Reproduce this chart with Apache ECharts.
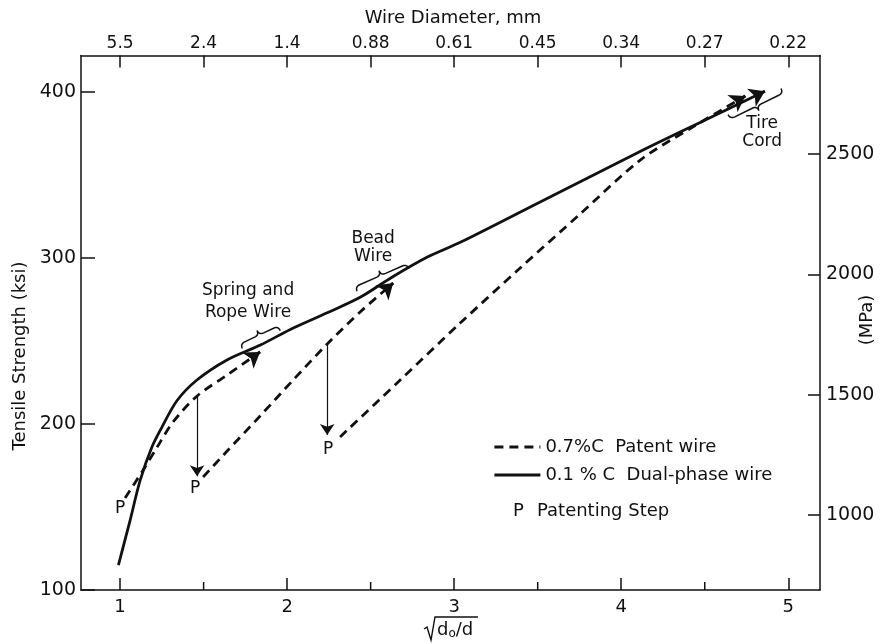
<!DOCTYPE html>
<html><head><meta charset="utf-8">
<script src="https://cdn.jsdelivr.net/npm/echarts@6/dist/echarts.min.js"></script>
<style>html,body{margin:0;padding:0;background:#fff}#c{width:884px;height:644px}</style>
</head><body><div id="c"></div>
<script>
// ---- data ----
const xTickValues = [1, 1.5, 2, 2.5, 3, 3.5, 4, 4.5, 5];
const diameterLabels = ['5.5', '2.4', '1.4', '0.88', '0.61', '0.45', '0.34', '0.27', '0.22'];
const xLabelValues = [1, 2, 3, 4, 5];
const xMinorTicks = [1.5, 2.5, 3.5, 4.5];
const ksiTicks = [100, 200, 300, 400];
const mpaTicks = [1000, 1500, 2000, 2500];

const dualPhaseWire = [
  [0.99, 115], [1.06, 142], [1.12, 166], [1.19, 186], [1.25, 198], [1.34, 214],
  [1.46, 226.5], [1.64, 238.6], [1.84, 247.6], [2.04, 258], [2.24, 267], [2.44, 276.5],
  [2.63, 288.6], [2.84, 300.6], [3.04, 309.6], [3.5, 333], [4.11, 364], [4.5, 383], [4.86, 400.5]
];
const patentWire1 = [
  [1.03, 155.4], [1.138, 172.3], [1.222, 186.1], [1.317, 201.2], [1.461, 216.9], [1.641, 229.5], [1.838, 243.4]
];
const patentWire2 = [
  [1.497, 168.1], [1.641, 183.7], [1.838, 204.8], [2.036, 226.5], [2.24, 248.2], [2.437, 267.5], [2.635, 284.9]
];
const patentWire3 = [
  [2.317, 192.2], [2.677, 226.5], [3.036, 260.8], [3.395, 294], [3.754, 326.5], [4.114, 359], [4.413, 378], [4.743, 397.6]
];
const patentingDrops = [
  [[1.461, 216.9], [1.461, 168.6]],
  [[2.24, 248.2], [2.24, 193.4]]
];
const patentingLabels = [[1.0, 149.1], [1.449, 160.8], [2.246, 184.3]];
const braces = [ // x1, y1, x2, y2, side (+1 hooks down, -1 hooks up)
  [1.719, 248.2, 1.946, 259.0, 1],
  [2.407, 282.7, 2.717, 296.4, 1],
  [4.653, 383.7, 4.97, 399.4, -1]
];
const noteTexts = [
  { pos: [1.766, 273.5], text: 'Spring and\nRope Wire', lh: 22 },
  { pos: [2.515, 306.3], text: 'Bead\nWire', lh: 18 },
  { pos: [4.844, 375.6], text: 'Tire\nCord', lh: 18 }
];
const patentName = '0.7%C  Patent wire';
const dualName = '0.1 % C  Dual-phase wire';

// ---- styling ----
const FONT = 'DejaVu Sans';
const INK = '#111';
const X_MIN = 0.766, X_MAX = 5.19, Y_MIN = 100, Y_MAX = 422;
const KSI_TO_MPA = 6.895;

function arrowSegment(curve) {
  const e = curve[curve.length - 1], p = curve[curve.length - 2], t = 0.12;
  return [[e[0] - (e[0] - p[0]) * t, e[1] - (e[1] - p[1]) * t], e];
}

function braceRender(params, api) {
  const a = api.coord([api.value(0), api.value(1)]);
  const b = api.coord([api.value(2), api.value(3)]);
  const side = api.value(4);
  const dx = b[0] - a[0], dy = b[1] - a[1], L = Math.hypot(dx, dy);
  const u = [dx / L, dy / L];
  let n = [-u[1], u[0]];
  if ((n[1] >= 0 ? 1 : -1) !== side) n = [-n[0], -n[1]];
  const h = 5;
  const m = [(a[0] + b[0]) / 2, (a[1] + b[1]) / 2];
  const P = (p, k1, k2) => [p[0] + u[0] * k1 + n[0] * k2, p[1] + u[1] * k1 + n[1] * k2];
  const pts = [];
  const quad = (p0, c, p1) => {
    for (let i = 0; i <= 8; i++) {
      const t = i / 8;
      pts.push([(1 - t) * (1 - t) * p0[0] + 2 * (1 - t) * t * c[0] + t * t * p1[0],
                (1 - t) * (1 - t) * p0[1] + 2 * (1 - t) * t * c[1] + t * t * p1[1]]);
    }
  };
  quad(P(a, 0, h), a, P(a, h, 0));
  quad(P(m, -h, 0), m, P(m, 0, -h));
  quad(P(m, 0, -h), m, P(m, h, 0));
  quad(P(b, -h, 0), b, P(b, 0, h));
  return { type: 'polyline', shape: { points: pts }, style: { fill: null, stroke: INK, lineWidth: 1.5 } };
}

function minorTickRender(params, api) {
  const p = api.coord([api.value(0), Y_MIN]);
  return { type: 'line', shape: { x1: p[0], y1: p[1], x2: p[0], y2: p[1] - 8 }, style: { stroke: INK, lineWidth: 1.5 } };
}

const axisLineStyle = { color: INK, width: 1.5 };
const labelBase = { color: INK, fontFamily: FONT };

function dashedSeries(data) {
  return {
    type: 'line', name: patentName, data: data, showSymbol: false, symbol: 'none',
    smooth: 0.3, silent: true, z: 3,
    lineStyle: { color: INK, width: 2.8, type: [9, 6] }, itemStyle: { color: INK }
  };
}

const option = {
  animation: false,
  backgroundColor: '#fff',
  grid: { left: 81, right: 64, top: 55.5, bottom: 54, outerBoundsMode: 'none', containLabel: false },
  xAxis: [
    {
      type: 'value', position: 'bottom', min: X_MIN, max: X_MAX,
      axisLine: { show: true, onZero: false, lineStyle: axisLineStyle },
      axisTick: { show: true, inside: true, length: 12, customValues: xLabelValues, lineStyle: axisLineStyle },
      axisLabel: Object.assign({ customValues: xLabelValues, fontSize: 18, margin: 8, formatter: v => String(v) }, labelBase),
      splitLine: { show: false }
    },
    {
      type: 'value', position: 'top', min: X_MIN, max: X_MAX,
      axisLine: { show: true, onZero: false, lineStyle: axisLineStyle },
      axisTick: { show: true, inside: true, length: 12, customValues: xTickValues, lineStyle: axisLineStyle },
      axisLabel: Object.assign({
        customValues: xTickValues, fontSize: 17, margin: 3,
        formatter: v => { const i = xTickValues.findIndex(t => Math.abs(t - v) < 1e-6); return i >= 0 ? diameterLabels[i] : ''; }
      }, labelBase),
      splitLine: { show: false }
    }
  ],
  yAxis: [
    {
      type: 'value', position: 'left', min: Y_MIN, max: Y_MAX,
      axisLine: { show: true, onZero: false, lineStyle: axisLineStyle },
      axisTick: { show: true, inside: true, length: 14, customValues: ksiTicks, lineStyle: axisLineStyle },
      axisLabel: Object.assign({ customValues: ksiTicks, fontSize: 19, margin: 5, formatter: v => String(v) }, labelBase),
      splitLine: { show: false }
    },
    {
      type: 'value', position: 'right', min: Y_MIN * KSI_TO_MPA, max: Y_MAX * KSI_TO_MPA,
      axisLine: { show: true, onZero: false, lineStyle: axisLineStyle },
      axisTick: { show: true, inside: true, length: 12, customValues: mpaTicks, lineStyle: axisLineStyle },
      axisLabel: Object.assign({ customValues: mpaTicks, fontSize: 19, margin: 6, formatter: v => String(v) }, labelBase),
      splitLine: { show: false }
    }
  ],
  legend: {
    data: [patentName, dualName], orient: 'vertical', left: 488, top: 433,
    itemWidth: 46, itemHeight: 14, itemGap: 10, selectedMode: false,
    itemStyle: { color: 'rgba(0,0,0,0)', borderColor: 'rgba(0,0,0,0)', borderWidth: 0, opacity: 0 },
    lineStyle: { width: 2.8 },
    textStyle: { color: INK, fontFamily: FONT, fontSize: 18 }
  },
  graphic: [
    { type: 'text', x: 20, y: 356, rotation: Math.PI / 2,
      style: { text: 'Tensile Strength (ksi)', fontFamily: FONT, fontSize: 18, fill: INK, align: 'center', verticalAlign: 'middle' } },
    { type: 'text', x: 867, y: 320, rotation: Math.PI / 2,
      style: { text: '(MPa)', fontFamily: FONT, fontSize: 18, fill: INK, align: 'center', verticalAlign: 'middle' } },
    { type: 'text', x: 453, y: 18,
      style: { text: 'Wire Diameter, mm', fontFamily: FONT, fontSize: 18, fill: INK, align: 'center', verticalAlign: 'middle' } },
    { type: 'polyline', shape: { points: [[424, 629], [427, 627], [431, 640], [435, 617], [478, 617]] },
      style: { fill: null, stroke: INK, lineWidth: 1.4 } },
    { type: 'text', x: 437, y: 630,
      style: { text: 'd{s|o}/d', fontFamily: FONT, fontSize: 18, fill: INK, align: 'left', verticalAlign: 'middle',
        rich: { s: { fontFamily: FONT, fontSize: 12, fill: INK, padding: [8, 0, 0, 0] } } } },
    { type: 'text', x: 513, y: 511,
      style: { text: 'P', fontFamily: FONT, fontSize: 18, fill: INK, align: 'left', verticalAlign: 'middle' } },
    { type: 'text', x: 537, y: 511,
      style: { text: 'Patenting Step', fontFamily: FONT, fontSize: 18, fill: INK, align: 'left', verticalAlign: 'middle' } }
  ],
  series: [
    dashedSeries(patentWire1),
    dashedSeries(patentWire2),
    dashedSeries(patentWire3),
    {
      type: 'line', name: dualName, data: dualPhaseWire, showSymbol: false, symbol: 'none',
      smooth: 0.3, silent: true, z: 4,
      lineStyle: { color: INK, width: 2.8 }, itemStyle: { color: INK }
    },
    {
      type: 'lines', name: 'curveArrows', coordinateSystem: 'cartesian2d', silent: true, z: 5,
      data: [patentWire1, patentWire2, patentWire3, dualPhaseWire].map(c => ({ coords: arrowSegment(c) })),
      symbol: ['none', 'arrow'], symbolSize: 15,
      lineStyle: { color: INK, width: 2.8, opacity: 1 }
    },
    {
      type: 'lines', name: 'drops', coordinateSystem: 'cartesian2d', silent: true, z: 5,
      data: patentingDrops.map(d => ({ coords: d })),
      symbol: ['none', 'arrow'], symbolSize: 11,
      lineStyle: { color: INK, width: 1.2, opacity: 1 }
    },
    {
      type: 'custom', name: 'braces', silent: true, z: 5, clip: false,
      data: braces, encode: { x: [0, 2], y: [1, 3] }, renderItem: braceRender
    },
    {
      type: 'custom', name: 'minorTicks', silent: true, z: 5, clip: false,
      data: xMinorTicks.map(v => [v, Y_MIN]), encode: { x: 0, y: 1 }, renderItem: minorTickRender
    },
    {
      type: 'scatter', name: 'pLabels', silent: true, z: 6, symbolSize: 1,
      itemStyle: { color: '#fff', opacity: 1 },
      data: patentingLabels,
      label: { show: true, position: 'inside', formatter: 'P', color: INK, opacity: 1, fontFamily: FONT, fontSize: 17, align: 'center', verticalAlign: 'middle' }
    },
    {
      type: 'scatter', name: 'notes', silent: true, z: 6, symbolSize: 1,
      itemStyle: { color: '#fff', opacity: 1 },
      data: noteTexts.map(t => ({ value: t.pos, label: { lineHeight: t.lh } })),
      label: {
        show: true, position: 'inside', color: INK, opacity: 1, fontFamily: FONT, fontSize: 17, align: 'center', verticalAlign: 'middle',
        formatter: p => noteTexts[p.dataIndex].text
      }
    }
  ]
};

const chart = echarts.init(document.getElementById('c'), null, { renderer: 'canvas' });
chart.setOption(option);
</script>
</body></html>
